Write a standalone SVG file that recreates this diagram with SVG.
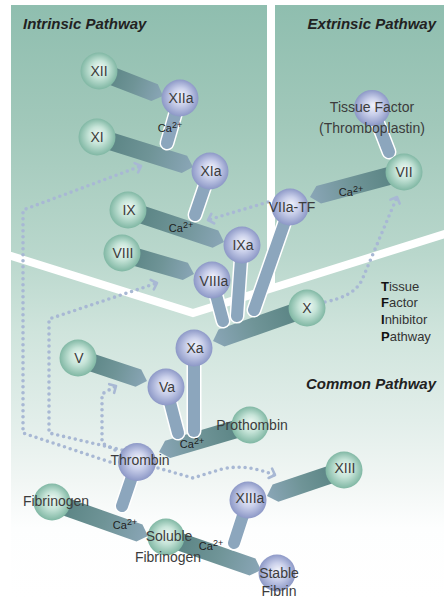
<svg xmlns="http://www.w3.org/2000/svg" width="444" height="599" viewBox="0 0 444 599">
  <style>
    .lbl { font-family: "Liberation Sans", Arial, sans-serif; font-size: 14px; fill: #3c3c3c; text-anchor: middle; }
    .ca { font-family: "Liberation Sans", Arial, sans-serif; font-size: 11px; fill: #1e1e1e; text-anchor: middle; }
    .ca tspan { font-size: 9px; }
    .hdr { font-family: "Liberation Sans", Arial, sans-serif; font-size: 15px; font-weight: bold; font-style: italic; fill: #222; }
    .tfpi { font-family: "Liberation Sans", Arial, sans-serif; font-size: 13px; fill: #333; }
    .tfpi tspan.b { font-weight: bold; fill: #111; }
    .band { fill: url(#bandGrad); }
    .stubEdge { stroke: #ffffff; stroke-width: 15; stroke-linecap: round; fill: none; }
    .stub { stroke: #8ca6bd; stroke-width: 12; stroke-linecap: round; fill: none; }
    .dots { fill: none; stroke: #a8b8d4; stroke-width: 3.6; stroke-linecap: round; stroke-linejoin: round; stroke-dasharray: 0 6; marker-end: url(#chev); }
    .sep { fill: none; stroke: #ffffff; stroke-width: 8; }
    .zym { fill: url(#greenBall); }
    .act { fill: url(#blueBall); }
  </style>
  <defs>
    <linearGradient id="bg" gradientUnits="userSpaceOnUse" x1="0" y1="5" x2="0" y2="599">
      <stop offset="0" stop-color="#8fbeaf"/>
      <stop offset="0.2" stop-color="#a1c8ba"/>
      <stop offset="0.42" stop-color="#b9d7cc"/>
      <stop offset="0.55" stop-color="#cfe4dc"/>
      <stop offset="0.7" stop-color="#e2eeea"/>
      <stop offset="0.8" stop-color="#f1f6f4"/>
      <stop offset="0.88" stop-color="#fdfefe"/>
      <stop offset="1" stop-color="#ffffff"/>
    </linearGradient>
    <linearGradient id="bandGrad" x1="0" y1="0" x2="1" y2="0">
      <stop offset="0" stop-color="#55807f"/>
      <stop offset="0.55" stop-color="#6f9497"/>
      <stop offset="1" stop-color="#8aa6b7"/>
    </linearGradient>
    <radialGradient id="greenBall" cx="0.5" cy="0.5" r="0.52" fx="0.53" fy="0.42">
      <stop offset="0" stop-color="#eef8f3"/>
      <stop offset="0.45" stop-color="#c6e4d8"/>
      <stop offset="1" stop-color="#7bb4a0"/>
    </radialGradient>
    <radialGradient id="blueBall" cx="0.5" cy="0.5" r="0.52" fx="0.53" fy="0.42">
      <stop offset="0" stop-color="#f2f3fb"/>
      <stop offset="0.45" stop-color="#c9cfea"/>
      <stop offset="1" stop-color="#8894c4"/>
    </radialGradient>
    <marker id="chev" viewBox="-8 -8 16 16" markerWidth="16" markerHeight="16" refX="0" refY="0" orient="auto" markerUnits="userSpaceOnUse">
      <path d="M-5,-5 L0,0 L-5,5" fill="none" stroke="#a8b8d4" stroke-width="2.6" stroke-linecap="round" stroke-linejoin="round"/>
    </marker>
  </defs>

  <!-- panel background and white separators -->
  <rect x="0" y="0" width="444" height="599" fill="#ffffff"/>
  <rect x="11" y="5" width="433" height="594" fill="url(#bg)"/>
  <line class="sep" x1="271" y1="0" x2="271" y2="290"/>
  <polyline class="sep" points="8,255 193,313 448,233"/>

  <!-- section headings -->
  <text class="hdr" x="23" y="29">Intrinsic Pathway</text>
  <text class="hdr" x="436" y="29" text-anchor="end">Extrinsic Pathway</text>
  <text class="hdr" x="436" y="389" text-anchor="end">Common Pathway</text>
  <text class="tfpi" x="381" y="291"><tspan class="b">T</tspan>issue</text>
  <text class="tfpi" x="381" y="307"><tspan class="b">F</tspan>actor</text>
  <text class="tfpi" x="381" y="324"><tspan class="b">I</tspan>nhibitor</text>
  <text class="tfpi" x="381" y="341"><tspan class="b">P</tspan>athway</text>

  <!-- connectors: feedback loops, conversions and cofactor links -->
  <g id="connectors">
    <g id="feedback">
      <path class="dots" d="M110,462 L23,433 L23,210 L141,166"/>
      <path class="dots" d="M122,450 L49,433 L49,319 L157,283"/>
      <path class="dots" d="M115,450 L102,443 L102,394 L116,386"/>
      <path class="dots" d="M158,468 L193,478 L222,469 C240,465 256,468 275,475"/>
      <path class="dots" d="M325,302 C344,298 356,292 362,280 L397,197"/>
      <path class="dots" d="M268,202 L208,220"/>
    </g>
    <g id="conversions">
      <polygon class="band" points="0,-9 59.7,-9 68.7,0 59.7,9 0,9" transform="translate(99,71) rotate(21.3)"/>
      <polygon class="band" points="0,-9 91.6,-9 100.6,0 91.6,9 0,9" transform="translate(97,137) rotate(17.35)"/>
      <polygon class="band" points="0,-9 92.2,-9 101.2,0 92.2,9 0,9" transform="translate(128,210) rotate(18.43)"/>
      <polygon class="band" points="0,-9 66,-9 75,0 66,9 0,9" transform="translate(122,253) rotate(16.26)"/>
      <polygon class="band" points="0,-9 88.3,-9 97.3,0 88.3,9 0,9" transform="translate(404,172) rotate(165.1)"/>
      <polygon class="band" points="0,-9 90.6,-9 99.6,0 90.6,9 0,9" transform="translate(307,308) rotate(160.65)"/>
      <polygon class="band" points="0,-9 63.7,-9 72.7,0 63.7,9 0,9" transform="translate(78,358) rotate(18.43)"/>
      <polygon class="band" points="0,-9 85.9,-9 94.9,0 85.9,9 0,9" transform="translate(250,425) rotate(163.5)"/>
      <polygon class="band" points="0,-9 72.3,-9 81.3,0 72.3,9 0,9" transform="translate(344,470) rotate(161.35)"/>
      <polygon class="band" points="0,-9 92.8,-9 101.8,0 92.8,9 0,9" transform="translate(52,502) rotate(19.5)"/>
      <polygon class="band" points="0,-9 91.6,-9 100.6,0 91.6,9 0,9" transform="translate(166,537) rotate(19.16)"/>
    </g>
    <g id="cofactors">
      <line class="stubEdge" x1="180" y1="98" x2="167" y2="143"/>
      <line class="stub" x1="180" y1="98" x2="167" y2="143"/>
      <line class="stubEdge" x1="210" y1="171" x2="195" y2="215"/>
      <line class="stub" x1="210" y1="171" x2="195" y2="215"/>
      <line class="stubEdge" x1="242" y1="245" x2="237" y2="316"/>
      <line class="stub" x1="242" y1="245" x2="237" y2="316"/>
      <line class="stubEdge" x1="212" y1="280" x2="223" y2="321"/>
      <line class="stub" x1="212" y1="280" x2="223" y2="321"/>
      <line class="stubEdge" x1="290" y1="207" x2="254" y2="310"/>
      <line class="stub" x1="290" y1="207" x2="254" y2="310"/>
      <line class="stubEdge" x1="194" y1="348" x2="194" y2="431"/>
      <line class="stub" x1="194" y1="348" x2="194" y2="431"/>
      <line class="stubEdge" x1="166" y1="387" x2="178" y2="433"/>
      <line class="stub" x1="166" y1="387" x2="178" y2="433"/>
      <line class="stubEdge" x1="137" y1="462" x2="122" y2="506"/>
      <line class="stub" x1="137" y1="462" x2="122" y2="506"/>
      <line class="stubEdge" x1="248" y1="500" x2="234" y2="543"/>
      <line class="stub" x1="248" y1="500" x2="234" y2="543"/>
      <line class="stubEdge" x1="372" y1="108" x2="389" y2="152"/>
      <line class="stub" x1="372" y1="108" x2="389" y2="152"/>
    </g>
    <g id="calcium">
      <text class="ca" x="170" y="132">Ca<tspan dy="-4">2+</tspan></text>
      <text class="ca" x="181" y="232">Ca<tspan dy="-4">2+</tspan></text>
      <text class="ca" x="351" y="196">Ca<tspan dy="-4">2+</tspan></text>
      <text class="ca" x="192" y="448">Ca<tspan dy="-4">2+</tspan></text>
      <text class="ca" x="125" y="529">Ca<tspan dy="-4">2+</tspan></text>
      <text class="ca" x="211" y="550">Ca<tspan dy="-4">2+</tspan></text>
    </g>
  </g>

  <!-- factors -->
  <g id="n-XII"><circle class="zym" cx="99" cy="71" r="18.5"/><text class="lbl" x="99" y="76">XII</text></g>
  <g id="n-XIIa"><circle class="act" cx="180" cy="98" r="18.5"/><text class="lbl" x="181" y="103">XIIa</text></g>
  <g id="n-XI"><circle class="zym" cx="97" cy="137" r="18.5"/><text class="lbl" x="97" y="142">XI</text></g>
  <g id="n-XIa"><circle class="act" cx="210" cy="171" r="18.5"/><text class="lbl" x="211" y="176">XIa</text></g>
  <g id="n-IX"><circle class="zym" cx="128" cy="210" r="18.5"/><text class="lbl" x="129" y="215">IX</text></g>
  <g id="n-IXa"><circle class="act" cx="242" cy="245" r="18.5"/><text class="lbl" x="243" y="250">IXa</text></g>
  <g id="n-VIII"><circle class="zym" cx="122" cy="253" r="18.5"/><text class="lbl" x="123" y="258">VIII</text></g>
  <g id="n-VIIIa"><circle class="act" cx="212" cy="280" r="18.5"/><text class="lbl" x="214" y="286">VIIIa</text></g>
  <g id="n-TF"><circle class="act" cx="372" cy="108" r="18"/><text class="lbl" x="372" y="112">Tissue Factor</text><text class="lbl" x="372" y="133">(Thromboplastin)</text></g>
  <g id="n-VII"><circle class="zym" cx="404" cy="172" r="18.5"/><text class="lbl" x="404" y="177">VII</text></g>
  <g id="n-VIIa-TF"><circle class="act" cx="290" cy="207" r="18.5"/><text class="lbl" x="292" y="212">VIIa-TF</text></g>
  <g id="n-X"><circle class="zym" cx="307" cy="308" r="18.5"/><text class="lbl" x="307" y="313">X</text></g>
  <g id="n-Xa"><circle class="act" cx="194" cy="348" r="18.5"/><text class="lbl" x="195" y="353">Xa</text></g>
  <g id="n-V"><circle class="zym" cx="78" cy="358" r="18.5"/><text class="lbl" x="79" y="363">V</text></g>
  <g id="n-Va"><circle class="act" cx="166" cy="387" r="18.5"/><text class="lbl" x="167" y="392">Va</text></g>
  <g id="n-prothrombin"><circle class="zym" cx="250" cy="425" r="18.5"/><text class="lbl" x="252" y="430">Prothombin</text></g>
  <g id="n-thrombin"><circle class="act" cx="137" cy="462" r="19"/><text class="lbl" x="140" y="465">Thrombin</text></g>
  <g id="n-XIII"><circle class="zym" cx="344" cy="470" r="18.5"/><text class="lbl" x="345" y="473">XIII</text></g>
  <g id="n-XIIIa"><circle class="act" cx="248" cy="500" r="18.5"/><text class="lbl" x="250" y="503">XIIIa</text></g>
  <g id="n-fibrinogen"><circle class="zym" cx="52" cy="502" r="18.5"/><text class="lbl" x="56" y="506">Fibrinogen</text></g>
  <g id="n-soluble"><circle class="zym" cx="166" cy="537" r="18.5"/><text class="lbl" x="169" y="541">Soluble</text><text class="lbl" x="168" y="562">Fibrinogen</text></g>
  <g id="n-stable"><circle class="act" cx="277" cy="573" r="18.5"/><text class="lbl" x="279" y="578">Stable</text><text class="lbl" x="279" y="596">Fibrin</text></g>
</svg>
